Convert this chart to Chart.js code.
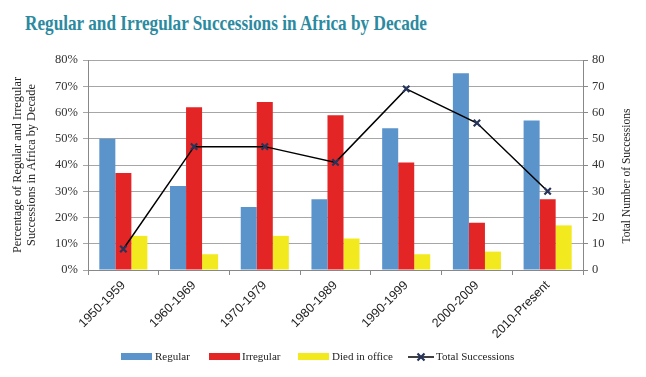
<!DOCTYPE html>
<html><head><meta charset="utf-8">
<script src="https://cdn.jsdelivr.net/npm/chart.js@4"></script>
<style>
html,body{margin:0;padding:0;background:#fff;}
#wrap{position:relative;width:646px;height:377px;overflow:hidden;}
#title{position:absolute;left:25px;top:10px;font-family:"Liberation Serif",serif;font-size:22px;font-weight:bold;color:#2b8aa0;white-space:nowrap;transform-origin:0 0;}
canvas{position:absolute;left:0;top:0;}
.lg{position:absolute;top:350px;font-family:"Liberation Serif",serif;font-size:11px;color:#222;white-space:nowrap;}
.sw{position:absolute;top:353px;height:7px;width:31px;}
</style></head><body>
<div id="wrap">
<div id="title">Regular and Irregular Successions in Africa by Decade</div>
<canvas id="c" width="646" height="377"></canvas>
<div class="sw" style="left:121px;background:#5b93cb"></div><div class="lg" style="left:155px">Regular</div>
<div class="sw" style="left:209px;background:#e42526"></div><div class="lg" style="left:242px">Irregular</div>
<div class="sw" style="left:298px;background:#f2ea1f"></div><div class="lg" style="left:332px">Died in office</div>
<svg style="position:absolute;left:407px;top:350px" width="28" height="14"><line x1="1" y1="7" x2="27" y2="7" stroke="#000" stroke-width="1.5"/><path d="M10.5 3.5 L17.5 10.5 M17.5 3.5 L10.5 10.5" stroke="#26345a" stroke-width="2.2"/></svg>
<div class="lg" style="left:436px">Total Successions</div>
</div>
<script>
const categories = ["1950-1959","1960-1969","1970-1979","1980-1989","1990-1999","2000-2009","2010-Present"];
const regular = [50,32,24,27,54,75,57];
const irregular = [37,62,64,59,41,18,27];
const diedInOffice = [13,6,13,12,6,7,17];
const totalSuccessions = [8,47,47,41,69,56,30];
const pctTicks = [0,10,20,30,40,50,60,70,80];
const rightTitle = 'Total Number of Successions';

// fit title width
const t = document.getElementById('title');
const w = t.getBoundingClientRect().width;
t.style.transform = 'scaleX(' + (402 / w) + ')';

const serif = "'Liberation Serif', serif";

const rightTitlePlugin = {
  id:'rightTitle',
  afterDraw(chart){
    const ctx = chart.ctx;
    const s = chart.scales.y2;
    ctx.save();
    ctx.translate(s.right - 19, 176);
    ctx.rotate(-Math.PI/2);
    ctx.font = "11.5px " + serif;
    ctx.fillStyle = '#222';
    ctx.textAlign = 'center';
    ctx.textBaseline = 'middle';
    ctx.fillText(rightTitle, 0, 0);
    ctx.restore();
  }
};

new Chart(document.getElementById('c'), {
  data: {
    labels: categories,
    datasets: [
      {type:'bar', label:'Regular', data: regular, backgroundColor:'#5b93cb', yAxisID:'y', order:1},
      {type:'bar', label:'Irregular', data: irregular, backgroundColor:'#e42526', yAxisID:'y', order:1},
      {type:'bar', label:'Died in office', data: diedInOffice, backgroundColor:'#f2ea1f', yAxisID:'y', order:1},
      {type:'line', label:'Total Successions', data: totalSuccessions, yAxisID:'y2', order:0,
       borderColor:'#000', borderWidth:1.5, pointStyle:'crossRot', pointRadius:4.5,
       pointBorderColor:'#26345a', pointBorderWidth:2.2, pointBackgroundColor:'#26345a', tension:0}
    ]
  },
  plugins:[rightTitlePlugin],
  options: {
    responsive:false, animation:false,
    layout:{padding:{left:0,right:0,top:60,bottom:0}},
    plugins:{legend:{display:false}, tooltip:{enabled:false}, title:{display:false}},
    datasets:{bar:{barPercentage:1, categoryPercentage:0.68}},
    scales:{
      x:{
        offset:true,
        grid:{display:true, drawOnChartArea:false, offset:true, tickLength:5, color:'#888'},
        border:{color:'#888'},
        ticks:{minRotation:45, maxRotation:45, font:{family:"'Liberation Sans', Arial, sans-serif", size:12.5}, color:'#222', padding:3},
        afterFit(s){ s.height = 107; }
      },
      y:{
        position:'left', min:0, max:80,
        afterBuildTicks(s){ s.ticks = pctTicks.map(v=>({value:v})); },
        ticks:{callback:v=>v+'%', font:{family:serif, size:12.5}, color:'#333', padding:5},
        grid:{color:'#a6a6a6', tickLength:5},
        border:{color:'#888'},
        title:{display:true, text:['Percentage of Regular and Irregular','Successions in Africa by Decade'], font:{family:serif, size:12.3}, color:'#222', padding:{top:10,bottom:0}},
        afterFit(s){ s.width = 88; }
      },
      y2:{
        position:'right', min:0, max:80,
        afterBuildTicks(s){ s.ticks = pctTicks.map(v=>({value:v})); },
        ticks:{font:{family:serif, size:12.5}, color:'#333', padding:4},
        grid:{drawOnChartArea:false, color:'#888', tickLength:5},
        border:{color:'#888'},
        title:{display:false},
        afterFit(s){ s.width = 63; }
      }
    }
  }
});
</script>
</body></html>
